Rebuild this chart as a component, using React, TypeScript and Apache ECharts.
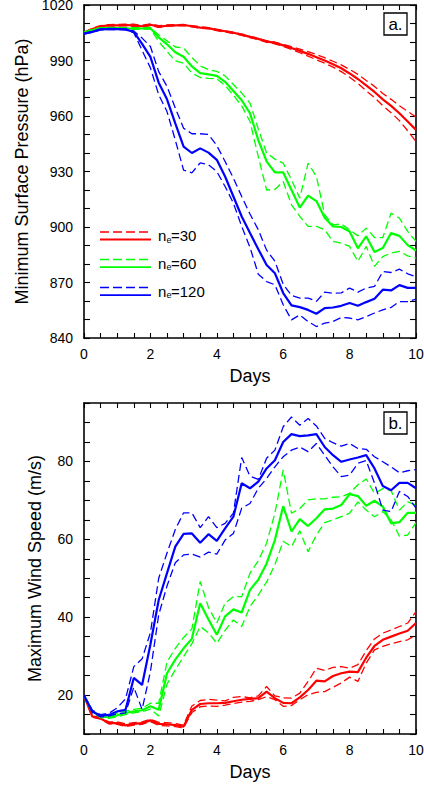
import React, { useEffect, useRef } from "react";
import * as echarts from "echarts";

const days = [0, 0.25, 0.5, 0.75, 1, 1.25, 1.5, 1.75, 2, 2.25, 2.5, 2.75, 3, 3.25, 3.5, 3.75, 4, 4.25, 4.5, 4.75, 5, 5.25, 5.5, 5.75, 6, 6.25, 6.5, 6.75, 7, 7.25, 7.5, 7.75, 8, 8.25, 8.5, 8.75, 9, 9.25, 9.5, 9.75, 10];

// Panel a: minimum surface pressure (hPa)
const p30 = [1005, 1007, 1008.5, 1009, 1009, 1009.2, 1009, 1008.5, 1009.3, 1008.3, 1008.8, 1009, 1009.2, 1008.5, 1007.8, 1007.5, 1006.5, 1005.8, 1005, 1004, 1002.8, 1001.7, 1000.3, 999.5, 998.2, 996.8, 995.2, 993.6, 991.8, 990, 988, 985.8, 983, 980, 976.5, 973, 969, 965.5, 961.5, 957, 952.5];
const p30Hi = [1005.3, 1007.4, 1008.9, 1009.4, 1009.5, 1009.7, 1009.6, 1009.1, 1009.8, 1008.8, 1009.2, 1009.4, 1009.5, 1008.9, 1008.2, 1007.8, 1006.9, 1006.1, 1005.3, 1004.3, 1003.1, 1002, 1000.7, 999.9, 998.7, 997.5, 996.2, 994.8, 993.2, 991.5, 989.6, 987.6, 985.2, 982.5, 979.2, 976, 972.2, 969, 965.5, 962.5, 959.5];
const p30Lo = [1004.8, 1006.7, 1008.2, 1008.7, 1008.6, 1008.8, 1008.5, 1008, 1008.9, 1007.9, 1008.4, 1008.7, 1008.9, 1008.2, 1007.4, 1007.1, 1006.1, 1005.4, 1004.6, 1003.6, 1002.4, 1001.3, 999.8, 999, 997.6, 996, 994.2, 992.4, 990.4, 988.6, 986.4, 984, 981, 977.6, 973.6, 970, 965.6, 961.8, 957.5, 952, 946.2];

const p60 = [1005, 1006.5, 1007.5, 1007.5, 1007.5, 1007.3, 1007.3, 1007.3, 1007.5, 1002.5, 998.8, 994.5, 992, 986.8, 983.2, 982.5, 981.7, 978.5, 973.5, 968.5, 961.5, 947, 935.5, 929.5, 929.5, 920, 910.5, 917, 914, 905, 900.3, 900, 897.6, 888.5, 895, 886.5, 888.6, 896.7, 895.2, 890.2, 887.3];
const p60Hi = [1005.3, 1006.8, 1007.8, 1007.9, 1007.9, 1007.7, 1007.7, 1007.7, 1007.9, 1003.8, 1000.6, 997.3, 996.7, 991.6, 987.1, 985, 984.1, 981.7, 977, 972.4, 967, 953, 940, 936.7, 934.5, 925.5, 915.6, 934.5, 927.3, 906.6, 901.2, 901.6, 898.5, 895.2, 899.4, 894.3, 894.3, 907.5, 904.8, 897.6, 892.2];
const p60Lo = [1004.7, 1006.2, 1007.2, 1007.1, 1007.1, 1006.9, 1006.9, 1006.9, 1007.1, 1000.3, 994.9, 989.8, 988.6, 983.2, 980.8, 980.3, 980.1, 976.5, 971.2, 965.5, 957, 938, 920, 920.3, 924.6, 912, 905.7, 900.3, 900.3, 898.5, 892.2, 891.3, 889.5, 881.4, 889.5, 878.7, 884, 885.9, 886.8, 884.4, 883.2];

const p120 = [1004.5, 1005.5, 1006.8, 1007, 1007, 1006.8, 1005.5, 999, 992, 978, 969, 956, 943.5, 940, 942.5, 940.2, 936.3, 927.3, 916.5, 905.7, 896.7, 888, 879.5, 875, 864.3, 857.6, 856.7, 855.2, 853.1, 856.2, 856.5, 857.4, 858.9, 857.4, 859.4, 861.2, 866.1, 865.7, 868.6, 867.1, 867.1];
const p120Hi = [1004.7, 1005.8, 1007.1, 1007.3, 1007.3, 1007.1, 1006, 1002.1, 997.6, 984, 976, 964.3, 953.4, 950.4, 950.4, 950, 944, 935.4, 926.4, 916.5, 907, 898.5, 887.5, 881.5, 869, 863, 861.6, 861.6, 859.8, 864.8, 864.2, 864.4, 867, 864.8, 867, 867.9, 875.9, 875.4, 877.2, 874.7, 873.2];
const p120Lo = [1004.3, 1005.2, 1006.5, 1006.7, 1006.7, 1006.5, 1005, 995.5, 986, 971.5, 962.4, 947, 930.7, 929.3, 934.7, 933.6, 930, 921.9, 912.9, 900.3, 889, 874.5, 870.5, 868.8, 858, 849.8, 852.5, 848.9, 846.2, 848, 848.9, 851.1, 850.8, 849.8, 851.6, 853.5, 855.2, 856.5, 859.7, 859.7, 861];

// Panel b: maximum wind speed (m/s)
const w30 = [19.9, 14.5, 14, 12.8, 12.8, 12.2, 12.6, 12.8, 13.5, 12.6, 12.5, 12.3, 11.9, 16.2, 17.7, 17.9, 17.9, 18, 18.4, 18.8, 19, 19.2, 20.9, 19.2, 18, 17.9, 19.4, 21.3, 23.7, 23.5, 24.9, 25.6, 26, 25.9, 29.6, 32.6, 34.2, 35, 35.8, 36.5, 38.5];
const w30Hi = [19.9, 14.7, 14.2, 13.1, 13.1, 12.6, 12.9, 13.1, 13.8, 13, 12.9, 12.7, 12.3, 17.2, 18.6, 18.9, 18.7, 18.5, 19.4, 19.6, 19.3, 19.8, 22.2, 19.8, 19.3, 19.2, 20.5, 23.5, 26.9, 26.3, 27.1, 27.3, 26.9, 27.8, 31.4, 34.4, 35.9, 36.7, 37.6, 38.5, 41.4];
const w30Lo = [19.9, 14.3, 13.8, 12.6, 12.5, 11.9, 12.3, 12.5, 13.2, 12.2, 12.1, 11.9, 11.6, 15.5, 17, 17.2, 17.1, 17.4, 17.8, 18.2, 18.4, 18.8, 19.6, 18.8, 17.1, 17.3, 18.8, 20.1, 20.7, 20.9, 22, 23.1, 24.6, 23.5, 28.2, 31.6, 32.5, 33.2, 33.7, 34.2, 35.5];

const w60 = [19.9, 15.8, 14.5, 14.3, 14.8, 15.4, 15.8, 16.1, 17.1, 16.2, 25.6, 29.1, 32, 34.5, 43.6, 39.4, 35.5, 40.2, 42, 41.2, 47, 49.6, 53.8, 59.8, 68.5, 62, 65.2, 63.4, 65.4, 67.7, 67.9, 68.8, 71.6, 71.1, 68.6, 69.9, 68.4, 64.1, 64.4, 66.8, 66.8];
const w60Hi = [19.9, 16.1, 14.8, 14.7, 15.3, 15.9, 16.3, 16.6, 17.9, 17.9, 28.5, 32, 34.8, 37, 49.2, 42.5, 38.5, 43.6, 45.3, 45.3, 51.3, 54.5, 59, 66.7, 77.8, 66.7, 67.9, 70.1, 70.4, 70.4, 70.8, 70.9, 71.8, 74, 75.5, 71.8, 73, 72.5, 67.5, 69.6, 68.8];
const w60Lo = [19.9, 15.5, 14.2, 14, 14.4, 15, 15.4, 15.7, 16.4, 14.6, 22.8, 26.5, 29.9, 33.2, 37.6, 36, 33.3, 36.6, 39.3, 37.6, 42.7, 45.7, 49, 53.5, 59.5, 58.1, 62.2, 56.8, 61.1, 64.3, 65, 65.8, 66.7, 69.6, 67.5, 65.8, 67.1, 65, 60.8, 61.1, 64.3];

const w120 = [19.9, 15.8, 14.7, 14.9, 15.8, 16.2, 24.4, 22.6, 33, 44.4, 51.3, 58.1, 61.4, 61.5, 59.1, 61.3, 59.6, 62.8, 65.8, 74.4, 73.1, 74.8, 78.2, 80.3, 85, 87, 86.5, 86.7, 87, 83.7, 81.6, 79.9, 80.5, 81, 81.6, 78.2, 73.7, 72.6, 74.5, 74.5, 73.1];
const w120Hi = [19.9, 16.1, 15, 15.3, 16.7, 19, 27.3, 29.3, 36, 50, 56.5, 62.5, 66.8, 66.8, 63, 65.8, 63, 64.1, 66.7, 81, 76.2, 75.4, 80.8, 82.9, 88.9, 91.4, 89.3, 91, 89.1, 85.9, 84.8, 83.9, 84.6, 83.3, 83.1, 81.2, 79.9, 78.6, 77.1, 77.6, 77.9];
const w120Lo = [19.9, 15.5, 14.4, 14.6, 15.2, 15.4, 22, 16.3, 26, 40.6, 48, 54, 56, 56.2, 55.4, 56.7, 56.2, 59.8, 61.5, 68, 69.2, 73.1, 75.6, 78.6, 81.2, 82.9, 83.7, 82.5, 84.6, 81.6, 78.6, 76.1, 76.5, 79.5, 80.2, 74.4, 67.5, 67.1, 72.3, 71, 68];

const legendLabels = ["30", "60", "120"];

const RED = "#ff0000";
const GREEN = "#00ff00";
const BLUE = "#0000ff";
const FONT = "'Liberation Sans', Arial, Helvetica, sans-serif";

function pairs(arr: number[]) {
  return days.map((d, i) => [d, arr[i]]);
}

function line(arr: number[], color: string, dashed: boolean, xi: number, yi: number, z: number) {
  return {
    type: "line",
    data: pairs(arr),
    xAxisIndex: xi,
    yAxisIndex: yi,
    symbol: "none",
    showSymbol: false,
    silent: true,
    z,
    lineStyle: { color, width: dashed ? 1.3 : 2.2, type: dashed ? [8, 4] : "solid" },
  };
}

function xAxes(gridIndex: number) {
  const common = {
    type: "value",
    gridIndex,
    min: 0,
    max: 10,
    interval: 0.5,
    splitLine: { show: false },
    axisLine: { show: true, onZero: false, lineStyle: { color: "#000", width: 1.6 } },
    axisTick: { show: true, inside: true, length: 5, lineStyle: { color: "#000", width: 1.1 } },
  };
  return [
    {
      ...common,
      position: "bottom",
      axisLabel: {
        show: true,
        formatter: (v: number) => (v % 2 === 0 ? String(v) : ""),
        fontSize: 14,
        color: "#000",
        margin: 9,
        fontFamily: FONT,
        showMinLabel: true,
        showMaxLabel: true,
      },
      name: "Days",
      nameLocation: "middle",
      nameGap: 29,
      nameTextStyle: { fontSize: 18, color: "#000", fontFamily: FONT },
    },
    { ...common, position: "top", axisLabel: { show: false } },
  ];
}

function yAxes(gridIndex: number, min: number, max: number, step: number, labelEvery: number, name: string, nameGap: number) {
  const common = {
    type: "value",
    gridIndex,
    min,
    max,
    interval: step,
    splitLine: { show: false },
    axisLine: { show: true, onZero: false, lineStyle: { color: "#000", width: 1.6 } },
    axisTick: { show: true, inside: true, length: 6, lineStyle: { color: "#000", width: 1.1 } },
  };
  return [
    {
      ...common,
      position: "left",
      axisLabel: {
        show: true,
        formatter: (v: number) => (v % labelEvery === 0 ? String(v) : ""),
        fontSize: 14,
        color: "#000",
        margin: 11,
        fontFamily: FONT,
        showMinLabel: true,
        showMaxLabel: true,
      },
      name,
      nameLocation: "middle",
      nameGap,
      nameTextStyle: { fontSize: 18, color: "#000", fontFamily: FONT },
    },
    { ...common, position: "right", axisLabel: { show: false } },
  ];
}

function legendItem(y: number, color: string, label: string) {
  return [
    { type: "line", shape: { x1: 100, y1: y - 3.7, x2: 151, y2: y - 3.7 }, style: { stroke: color, lineWidth: 1.5, lineDash: [9, 4] }, z: 50 },
    { type: "line", shape: { x1: 100, y1: y + 3.8, x2: 151, y2: y + 3.8 }, style: { stroke: color, lineWidth: 1.8 }, z: 50 },
    { type: "text", x: 158, y, style: { text: "n", fontSize: 15, fill: "#000", fontFamily: FONT, align: "left", verticalAlign: "middle" }, z: 50 },
    { type: "text", x: 166.6, y: y + 4, style: { text: "e", fontSize: 9, fill: "#000", fontFamily: FONT, align: "left", verticalAlign: "middle" }, z: 50 },
    { type: "text", x: 171, y, style: { text: "=" + label, fontSize: 15, fill: "#000", fontFamily: FONT, align: "left", verticalAlign: "middle" }, z: 50 },
  ];
}

function panelTag(y: number, label: string) {
  return [
    { type: "rect", shape: { x: 384, y, width: 23, height: 22 }, style: { fill: "#fff", stroke: "#000", lineWidth: 1.3 }, z: 60 },
    { type: "text", x: 395.5, y: y + 11, style: { text: label, fontSize: 17, fill: "#000", fontFamily: FONT, align: "center", verticalAlign: "middle" }, z: 61 },
  ];
}

export default function App() {
  const ref = useRef<HTMLDivElement>(null);
  useEffect(() => {
    if (!ref.current) return;
    const chart = echarts.init(ref.current, undefined, { renderer: "svg" });
    const option: any = {
      animation: false,
      backgroundColor: "#fff",
      textStyle: { fontFamily: FONT },
      grid: [
        { left: 84, top: 5, width: 332, height: 333, containLabel: false, outerBoundsMode: "none" },
        { left: 84, top: 403, width: 332, height: 331, containLabel: false, outerBoundsMode: "none" },
      ],
      xAxis: [...xAxes(0), ...xAxes(1)],
      yAxis: [
        ...yAxes(0, 840, 1020, 10, 30, "Minimum Surface Pressure (hPa)", 53),
        ...yAxes(1, 10, 95, 5, 20, "Maximum Wind Speed (m/s)", 40),
      ],
      series: [
        line(p30Hi, RED, true, 0, 0, 2),
        line(p30Lo, RED, true, 0, 0, 2),
        line(p30, RED, false, 0, 0, 3),
        line(p60Hi, GREEN, true, 0, 0, 4),
        line(p60Lo, GREEN, true, 0, 0, 4),
        line(p60, GREEN, false, 0, 0, 5),
        line(p120Hi, BLUE, true, 0, 0, 6),
        line(p120Lo, BLUE, true, 0, 0, 6),
        line(p120, BLUE, false, 0, 0, 7),
        line(w30Hi, RED, true, 2, 2, 2),
        line(w30Lo, RED, true, 2, 2, 2),
        line(w30, RED, false, 2, 2, 3),
        line(w60Hi, GREEN, true, 2, 2, 4),
        line(w60Lo, GREEN, true, 2, 2, 4),
        line(w60, GREEN, false, 2, 2, 5),
        line(w120Hi, BLUE, true, 2, 2, 6),
        line(w120Lo, BLUE, true, 2, 2, 6),
        line(w120, BLUE, false, 2, 2, 7),
      ],
      graphic: [
        ...legendItem(235.7, RED, legendLabels[0]),
        ...legendItem(263.3, GREEN, legendLabels[1]),
        ...legendItem(291.3, BLUE, legendLabels[2]),
        ...panelTag(13, "a."),
        ...panelTag(412, "b."),
      ],
    };
    chart.setOption(option);
    return () => chart.dispose();
  }, []);
  return (
    <div
      ref={ref}
      style={{ position: "fixed", left: 0, top: 0, width: 424, height: 792, background: "#fff" }}
    />
  );
}
